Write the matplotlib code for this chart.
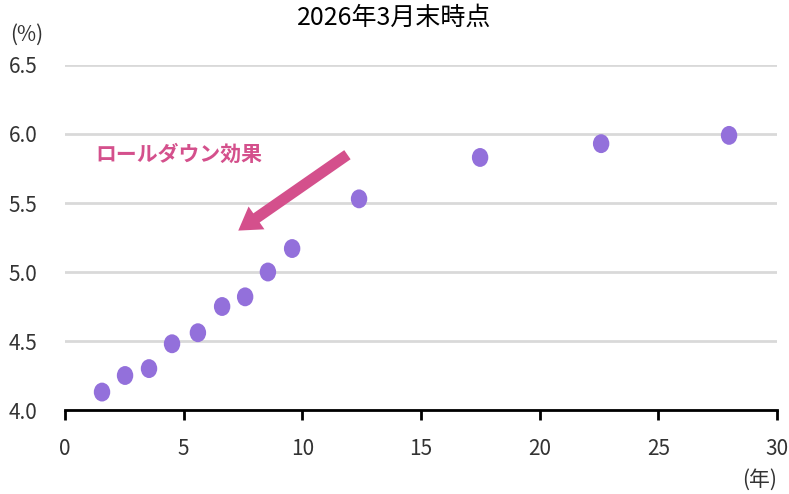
import matplotlib.pyplot as plt
from matplotlib.path import Path
from matplotlib.transforms import Affine2D

plt.rcParams['font.family'] = ['Noto Sans CJK JP', 'DejaVu Sans']

# 年限(年) と 利回り(%)
years = [1.56, 2.53, 3.54, 4.51, 5.60, 6.62, 7.59, 8.55, 9.57, 12.39, 17.49, 22.59, 27.98]
yields = [4.13, 4.25, 4.30, 4.48, 4.56, 4.75, 4.82, 5.00, 5.17, 5.53, 5.83, 5.93, 5.99]

x_ticks = [0, 5, 10, 15, 20, 25, 30]
y_ticks = [4.0, 4.5, 5.0, 5.5, 6.0, 6.5]

fig = plt.figure(figsize=(7.89, 4.94), dpi=100)
ax = fig.add_axes([65 / 789, 84 / 494, 712 / 789, 345 / 494])

# 少し縦長の楕円マーカー
oval = Path.unit_circle().transformed(Affine2D().scale(1.0, 1.15))
ax.scatter(years, yields, s=185, marker=oval, color='#9370DB', edgecolors='none', zorder=3)

ax.set_xlim(0, 30)
ax.set_ylim(4.0, 6.5)
ax.set_xticks(x_ticks)
ax.set_yticks(y_ticks)
ax.set_yticklabels([f'{v:.1f}' for v in y_ticks])

ax.grid(axis='y', color='#D9D9D9', linewidth=2)
ax.set_axisbelow(True)
for side in ['left', 'right', 'top']:
    ax.spines[side].set_visible(False)
ax.spines['bottom'].set_linewidth(2)
ax.spines['bottom'].set_zorder(4)
ax.tick_params(axis='x', length=7, width=2, pad=13, labelsize=15, colors='black', labelcolor='#333333')
ax.tick_params(axis='y', length=0, pad=20, labelsize=15, labelcolor='#333333')

# 矢印と注記
ax.annotate('', xy=(7.3, 5.30), xytext=(11.9, 5.85),
            arrowprops=dict(facecolor='#D4508C', edgecolor='none', width=8,
                            headwidth=20, headlength=16))
ax.text(1.3, 5.85, 'ロールダウン効果', color='#D4508C', fontsize=15,
        fontweight='bold', va='center', ha='left')

fig.text(0.50, 0.965, '2026年3月末時点', ha='center', va='center', fontsize=18)
fig.text(10 / 789, 1 - 35 / 494, '(%)', ha='left', va='center', fontsize=15, color='#333333')
fig.text(777 / 789, 1 - 480 / 494, '(年)', ha='right', va='center', fontsize=15, color='#333333')

fig.savefig('out.png', dpi=100)
